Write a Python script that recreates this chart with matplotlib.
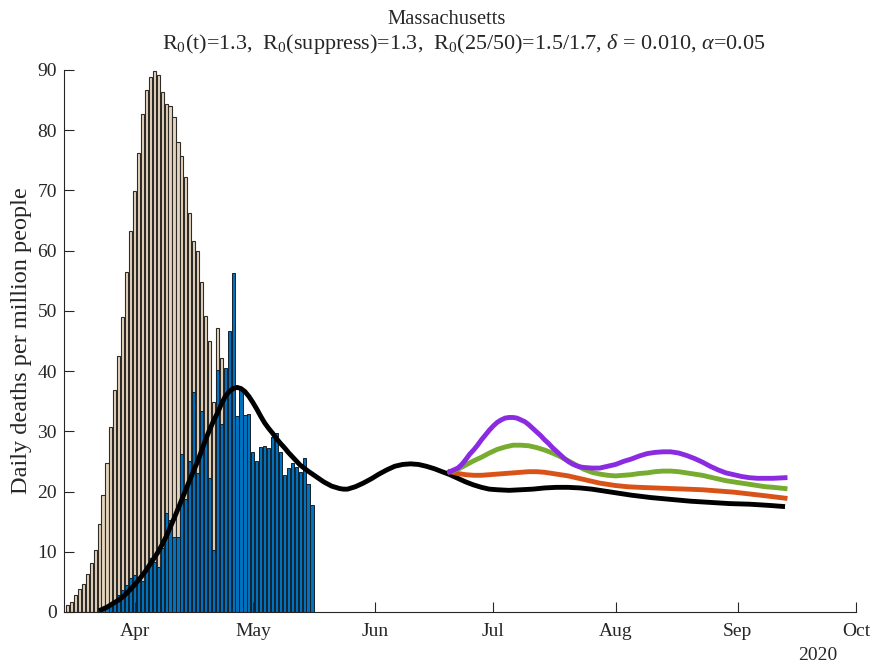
import matplotlib
matplotlib.use('Agg')
import matplotlib.pyplot as plt
import matplotlib.dates as mdates
import numpy as np
from datetime import datetime

plt.rcParams['font.family'] = ['Liberation Serif', 'DejaVu Serif']
plt.rcParams['mathtext.fontset'] = 'custom'
plt.rcParams['mathtext.rm'] = 'Liberation Serif'
plt.rcParams['mathtext.it'] = 'Liberation Serif:italic'

# daily bars (per million people)
beige_start = '2020-03-15'
beige_vals = [1.2, 1.7, 2.8, 3.8, 4.6, 6.3, 8.2, 10.3, 14.6, 19.4, 24.8, 30.8, 36.9, 42.5,
              49.0, 56.5, 63.2, 69.9, 76.3, 82.7, 86.7, 88.8, 89.9, 89.2, 86.4, 84.3, 84.1,
              82.2, 78.1, 75.7, 72.3, 66.3, 61.6, 59.9, 54.8, 49.1, 45.0, 34.9, 47.1, 42.1]

deaths_start = '2020-03-23'
deaths_vals = [0.6, 0.9, 1.1, 1.3, 2.0, 2.8, 3.6, 4.5, 5.6,
               6.1, 5.4, 5.2, 7.6, 8.9, 8.3, 7.5, 10.7, 16.5, 15.3, 12.5, 12.5, 26.2, 18.8,
               25.0, 36.6, 23.0, 33.4, 29.0, 22.2, 10.3, 40.2, 31.3, 40.5, 46.6, 56.3, 32.6,
               36.9, 32.7, 32.9,
               26.5, 25.1, 27.4, 27.5, 27.2, 29.1, 29.8, 26.6, 22.8, 23.9, 24.8, 24.1, 23.3,
               25.5, 21.3, 17.8]

# model curves: days after 1 April, value
fit_days = [-9, -8, -7, -6, -5, -4, -3, -2, -1, 0, 1, 2, 3, 4, 5, 6, 7, 8, 9, 10, 11, 12,
            13, 14, 15, 16, 17, 18, 19, 20, 21, 22, 23, 24, 25, 26, 27, 28, 29, 30, 31, 32,
            33, 34, 35, 36, 37, 38, 39, 40, 41, 42, 44, 46, 48, 50, 52, 53, 54, 56, 58, 60,
            62, 64, 66, 68, 70, 72, 74, 76, 78, 80, 82, 84, 86, 88, 90, 92, 95, 98, 101,
            104, 107, 110, 113, 116, 119, 122, 126, 131, 136, 141, 146, 151, 156, 161, 165]
fit_vals = [0.2, 0.5, 0.8, 1.2, 1.6, 2.0, 2.5, 3.1, 3.8, 4.5, 5.3, 6.1, 7.0, 8.0, 9.0, 10.0,
            11.2, 12.5, 14.0, 15.5, 17.1, 18.7, 20.3, 21.9, 23.5, 25.0, 26.8, 28.6, 30.2,
            31.7, 33.0, 34.5, 35.8, 36.6, 37.1, 37.3, 37.1, 36.6, 35.8, 34.8, 33.7, 32.5,
            31.4, 30.5, 29.7, 28.8, 28.0, 27.3, 26.5, 25.8, 25.1, 24.4, 23.4, 22.5, 21.6,
            20.9, 20.5, 20.4, 20.4, 20.8, 21.4, 22.1, 22.9, 23.6, 24.2, 24.5, 24.6, 24.5,
            24.2, 23.8, 23.3, 22.8, 22.2, 21.6, 21.1, 20.7, 20.4, 20.3, 20.2, 20.3, 20.4,
            20.6, 20.7, 20.7, 20.6, 20.4, 20.1, 19.8, 19.4, 19.0, 18.7, 18.4, 18.2, 18.0,
            17.9, 17.7, 17.5]

purple_days = [80, 81, 82, 83, 84, 85, 86, 87, 88, 89, 90, 91, 92, 93, 94, 95, 96, 97, 98,
               99, 100, 101, 102, 103, 104, 105, 106, 107, 108, 109, 110, 111, 112, 113,
               114, 116, 118, 120, 122, 124, 126, 128, 130, 132, 134, 136, 138, 140, 142,
               144, 146, 148, 150, 152, 154, 156, 158, 160, 162, 165]
purple_vals = [23.3, 23.6, 23.9, 24.5, 25.3, 26.2, 26.9, 27.7, 28.6, 29.4, 30.2, 30.9, 31.5,
               31.9, 32.2, 32.3, 32.3, 32.2, 31.9, 31.6, 31.1, 30.5, 29.9, 29.3, 28.6, 28.0,
               27.3, 26.7, 26.1, 25.5, 25.0, 24.6, 24.3, 24.1, 24.0, 23.9, 23.9, 24.2, 24.5,
               25.0, 25.4, 25.9, 26.3, 26.5, 26.6, 26.6, 26.4, 26.0, 25.5, 24.9, 24.2, 23.6,
               23.1, 22.8, 22.5, 22.3, 22.2, 22.2, 22.2, 22.3]

green_days = [80, 82, 84, 86, 88, 90, 92, 94, 96, 98, 100, 102, 104, 106, 108, 110, 112,
              114, 116, 118, 120, 122, 124, 126, 128, 130, 132, 134, 136, 138, 140, 142,
              144, 146, 148, 150, 152, 154, 156, 158, 160, 162, 165]
green_vals = [23.3, 23.7, 24.4, 25.1, 25.7, 26.4, 27.0, 27.4, 27.7, 27.7, 27.6, 27.3, 26.9,
              26.4, 25.8, 25.1, 24.4, 23.7, 23.2, 22.9, 22.7, 22.6, 22.7, 22.8, 23.0, 23.1,
              23.3, 23.4, 23.4, 23.3, 23.1, 22.9, 22.7, 22.4, 22.1, 21.8, 21.6, 21.4, 21.2,
              21.0, 20.8, 20.7, 20.5]

orange_days = [80, 82, 84, 86, 88, 90, 92, 94, 96, 98, 100, 102, 104, 106, 108, 110, 112,
               114, 116, 118, 120, 122, 125, 128, 132, 136, 140, 144, 148, 152, 156, 160, 165]
orange_vals = [23.3, 23.0, 22.8, 22.7, 22.7, 22.8, 22.9, 23.0, 23.1, 23.2, 23.3, 23.3, 23.2,
               23.0, 22.8, 22.6, 22.3, 22.0, 21.7, 21.4, 21.2, 21.0, 20.8, 20.7, 20.6, 20.5,
               20.4, 20.3, 20.1, 19.9, 19.6, 19.3, 18.9]

month_ticks = ['2020-04-01', '2020-05-01', '2020-06-01', '2020-07-01', '2020-08-01',
               '2020-09-01', '2020-10-01']

t0 = mdates.date2num(datetime(2020, 4, 1))

fig = plt.figure(figsize=(8.73, 6.71), dpi=100)
ax = fig.add_axes([64 / 873, 1 - 612 / 671, (856 - 64) / 873, (612 - 70) / 671])

# bars
bx = mdates.date2num(np.datetime64(beige_start) + np.arange(len(beige_vals)))
ax.bar(bx, beige_vals, width=0.8, color='#e6d5be', edgecolor='#2e2a26', linewidth=0.8)
dx = mdates.date2num(np.datetime64(deaths_start) + np.arange(len(deaths_vals)))
ax.bar(dx, deaths_vals, width=0.8, color='#0072BD', edgecolor='#14202c', linewidth=0.7)

# curves
ax.plot(t0 + np.array(fit_days), fit_vals, color='black', lw=3.5, solid_capstyle='butt')
ax.plot(t0 + np.array(orange_days), orange_vals, color='#D95319', lw=3.5)
ax.plot(t0 + np.array(green_days), green_vals, color='#77AC30', lw=3.5)
ax.plot(t0 + np.array(purple_days), purple_vals, color='#8a2be2', lw=3.5)

ax.set_ylim(0, 90)
ax.set_yticks(np.arange(0, 91, 10))
ax.set_xlim(t0 - 17.9, mdates.date2num(datetime(2020, 10, 1)))
ax.set_xticks(mdates.date2num(np.array(month_ticks, dtype='datetime64[D]')))
ax.xaxis.set_major_formatter(mdates.DateFormatter('%b'))

for s in ['top', 'right']:
    ax.spines[s].set_visible(False)
for s in ['left', 'bottom']:
    ax.spines[s].set_color('#262626')
    ax.spines[s].set_linewidth(0.8)
ax.tick_params(direction='in', length=7, width=0.8, color='#262626', labelsize=14,
               labelcolor='#262626')
ax.tick_params(axis='x', pad=8)
ax.tick_params(axis='y', pad=5)

ax.set_ylabel('Daily deaths per million people', fontsize=17.5, color='#262626', labelpad=4)

fig.text(447 / 873, 1 - 19 / 671, 'Massachusetts', ha='center', va='center',
         fontsize=14.8, color='#262626')
fig.text(464 / 873, 1 - 44 / 671,
         r'R$_0$(t)=1.3,  R$_0$(suppress)=1.3,  R$_0$(25/50)=1.5/1.7, $\delta$ = 0.010, $\alpha$=0.05',
         ha='center', va='center', fontsize=15.9, color='#262626')
fig.text(818 / 873, 1 - 656 / 671, '2020', ha='center', va='center', fontsize=14,
         color='#262626')

fig.savefig('out.png', dpi=100)
